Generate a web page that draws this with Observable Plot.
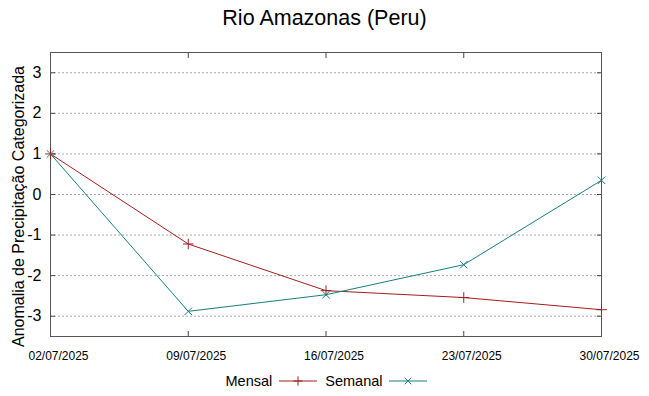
<!DOCTYPE html>
<html>
<head>
<meta charset="utf-8">
<script src="https://cdn.jsdelivr.net/npm/d3@7"></script>
<script src="https://cdn.jsdelivr.net/npm/@observablehq/plot@0.6"></script>
<style>
  body { margin: 0; background: #fff; font-family: "Liberation Sans", Arial, sans-serif; }
  #wrap { width: 649px; }
  #title { height: 36px; line-height: 36px; text-align: center; font-size: 21.5px; color: #000; }
  #legend { height: 30px; display: flex; justify-content: center; align-items: center; font-size: 14.5px; color: #000; padding-left: 12px; }
  #legend .item { display: flex; align-items: center; }
  #legend svg { margin: 0 8px 0 7px; }
</style>
</head>
<body>
<div id="wrap">
  <div id="title">Rio Amazonas (Peru)</div>
  <div id="chart"></div>
  <div id="legend"></div>
</div>
<script>
const dates = ["2025-07-02", "2025-07-09", "2025-07-16", "2025-07-23", "2025-07-30"];
const mensal = [1.0, -1.22, -2.37, -2.54, -2.84];
const semanal = [1.0, -2.88, -2.47, -1.73, 0.35];
const yTicks = [-3, -2, -1, 0, 1, 2, 3];
const seriesNames = ["Mensal", "Semanal"];
const seriesColors = ["#a51c1c", "#167f7f"];
const seriesSymbols = ["plus", "times"];
const yLabel = "Anomalia de Precipitação Categorizada";

const parse = d3.utcParse("%Y-%m-%d");
const xDates = dates.map(parse);
const rows = [];
[mensal, semanal].forEach((vals, i) => {
  vals.forEach((v, j) => rows.push({date: xDates[j], value: v, series: seriesNames[i]}));
});
const fmt = d3.utcFormat("%d/%m/%Y");
const colorOf = s => seriesColors[seriesNames.indexOf(s)];

const plot = Plot.plot({
  width: 649,
  height: 330,
  marginTop: 16,
  marginBottom: 30,
  marginLeft: 50,
  marginRight: 48,
  style: {fontFamily: "'Liberation Sans', Arial, sans-serif", background: "#fff", color: "#000"},
  x: {type: "utc", domain: [xDates[0], xDates[xDates.length - 1]]},
  y: {domain: [-3.5, 3.5]},
  marks: [
    Plot.ruleY(yTicks, {stroke: "#a8a8a8", strokeDasharray: "2,2", strokeWidth: 1}),
    Plot.axisY({ticks: yTicks, anchor: "left", tickSize: 0, tickPadding: 9, fontSize: 16, tickFormat: d => String(d), label: null}),
    Plot.axisY({ticks: yTicks, anchor: "left", tickSize: -5, text: null, label: null, stroke: "#444"}),
    Plot.axisY({ticks: yTicks, anchor: "right", tickSize: -5, text: null, label: null, stroke: "#444"}),
    Plot.axisX({ticks: xDates, anchor: "bottom", tickSize: 0, tickPadding: 15, tickFormat: fmt, fontSize: 12, dx: 8, label: null}),
    Plot.axisX({ticks: xDates, anchor: "bottom", tickSize: -5, text: null, label: null, stroke: "#444"}),
    Plot.axisX({ticks: xDates, anchor: "top", tickSize: -5, text: null, label: null, stroke: "#444"}),
    Plot.text([yLabel], {frameAnchor: "left", textAnchor: "middle", rotate: -90, dx: -32, dy: 12, fontSize: 16, text: d => d}),
    Plot.frame({stroke: "#555", strokeWidth: 1}),
    Plot.line(rows, {x: "date", y: "value", z: "series", stroke: d => colorOf(d.series), strokeWidth: 1}),
    Plot.dot(rows, {x: "date", y: "value", symbol: d => seriesSymbols[seriesNames.indexOf(d.series)], stroke: d => colorOf(d.series), r: 3.5, strokeWidth: 1})
  ]
});
document.getElementById("chart").appendChild(plot);

const legend = document.getElementById("legend");
seriesNames.forEach((name, i) => {
  const item = document.createElement("span");
  item.className = "item";
  const label = document.createElement("span");
  label.textContent = name;
  item.appendChild(label);
  const ns = "http://www.w3.org/2000/svg";
  const svg = document.createElementNS(ns, "svg");
  svg.setAttribute("width", 38);
  svg.setAttribute("height", 12);
  const line = document.createElementNS(ns, "line");
  line.setAttribute("x1", 0); line.setAttribute("x2", 38);
  line.setAttribute("y1", 6); line.setAttribute("y2", 6);
  line.setAttribute("stroke", seriesColors[i]);
  svg.appendChild(line);
  const sym = document.createElementNS(ns, "path");
  const s = d3.symbol(seriesSymbols[i] === "plus" ? d3.symbolPlus : d3.symbolTimes, 30)();
  sym.setAttribute("d", s);
  sym.setAttribute("transform", "translate(19,6)");
  sym.setAttribute("fill", "none");
  sym.setAttribute("stroke", seriesColors[i]);
  svg.appendChild(sym);
  item.appendChild(svg);
  legend.appendChild(item);
});
</script>
</body>
</html>
